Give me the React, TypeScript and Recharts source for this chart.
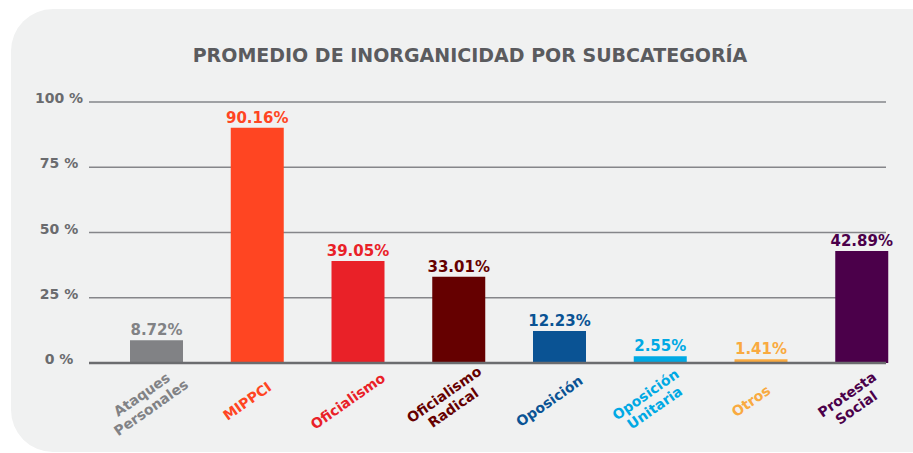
import { BarChart, Bar, XAxis, YAxis, CartesianGrid, Cell, LabelList } from 'recharts';

const categories = [
  'Ataques Personales',
  'MIPPCI',
  'Oficialismo',
  'Oficialismo Radical',
  'Oposición',
  'Oposición Unitaria',
  'Otros',
  'Protesta Social',
];
const values = [8.72, 90.16, 39.05, 33.01, 12.23, 2.55, 1.41, 42.89];
const yTicks = [0, 25, 50, 75, 100];
const colors = ['#818285', '#ff4522', '#e92128', '#650000', '#0a5394', '#00a9e4', '#f9aa40', '#4b004a'];

const data = categories.map((name, i) => ({ name, value: values[i] }));

const FONT = '"DejaVu Sans", sans-serif';

const YTick = ({ y, payload }: any) => (
  <text x={59} y={y + 1} textAnchor="middle" fontFamily={FONT} fontWeight="bold" fontSize={14} fill="#6a6b6e">
    {payload.value} %
  </text>
);

// rotated category names, split in two lines where there are two words
const XTick = ({ x, payload, index }: any) => {
  const lines = String(payload.value).split(' ');
  const lh = 16;
  const start = -((lines.length - 1) * lh) / 2;
  return (
    <g transform={`translate(${x - 10},${401}) rotate(-35)`}>
      <text textAnchor="middle" fontFamily={FONT} fontWeight="bold" fontSize={14} fill={colors[index]}>
        {lines.map((l, i) => (
          <tspan key={i} x={0} y={start + i * lh + 5}>
            {l}
          </tspan>
        ))}
      </text>
    </g>
  );
};

const ValueLabel = ({ x, y, width, value, index }: any) => (
  <text x={x + width / 2} y={y - 5} textAnchor="middle" fontFamily={FONT} fontWeight="bold" fontSize={15} fill={colors[index]}>
    {Number(value).toFixed(2)}%
  </text>
);

export default function App() {
  return (
    <div style={{ position: 'relative', width: 913, height: 453, overflow: 'hidden', background: '#fff' }}>
      <style>{'body{margin:0}'}</style>
      <div
        style={{
          position: 'absolute',
          left: 11,
          top: 9,
          width: 960,
          height: 443,
          borderRadius: 42,
          background: '#f0f1f1',
        }}
      />
      <svg width={913} height={453} style={{ position: 'absolute', left: 0, top: 0 }}>
        <text x={470} y={62} textAnchor="middle" fontFamily={FONT} fontWeight="bold" fontSize={19} fill="#5a5b5e">
          PROMEDIO DE INORGANICIDAD POR SUBCATEGORÍA
        </text>
      </svg>
      <div style={{ position: 'absolute', left: 0, top: 0 }}>
        <BarChart width={913} height={453} data={data} margin={{ top: 102, right: 27, bottom: 0, left: 0 }} barSize={53}>
          <CartesianGrid vertical={false} stroke="#85868a" strokeWidth={1.5} />
          <YAxis
            width={89}
            domain={[0, 100]}
            ticks={yTicks}
            axisLine={false}
            tickLine={false}
            tick={<YTick />}
          />
          <XAxis
            dataKey="name"
            height={90}
            padding={{ left: 17, right: -26 }}
            axisLine={{ stroke: '#6b6c6f', strokeWidth: 2.5 }}
            tickLine={false}
            interval={0}
            tick={<XTick />}
          />
          <Bar dataKey="value" isAnimationActive={false}>
            {data.map((_, i) => (
              <Cell key={i} fill={colors[i]} />
            ))}
            <LabelList dataKey="value" content={<ValueLabel />} />
          </Bar>
        </BarChart>
      </div>
    </div>
  );
}
